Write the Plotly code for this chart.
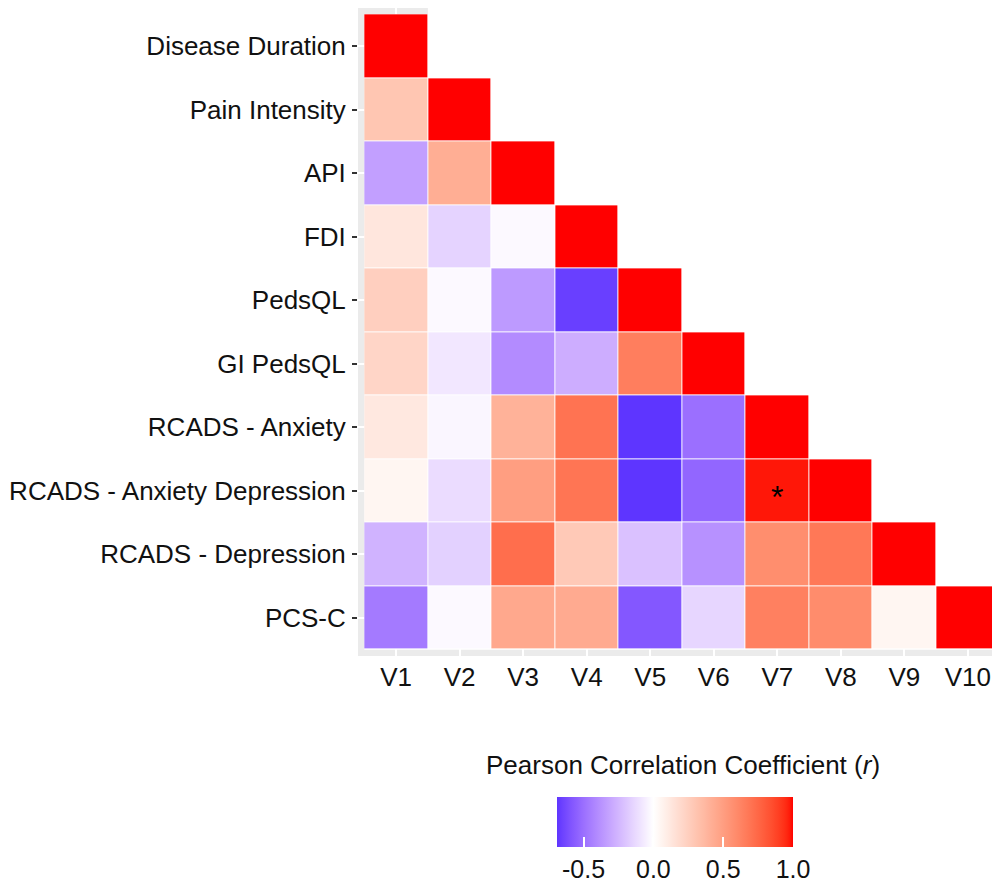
import numpy as np
import plotly.graph_objects as go

# ---------------- data ----------------
variables = ["Disease Duration", "Pain Intensity", "API", "FDI", "PedsQL",
             "GI PedsQL", "RCADS - Anxiety", "RCADS - Anxiety Depression",
             "RCADS - Depression", "PCS-C"]
x_labels = ["V1", "V2", "V3", "V4", "V5", "V6", "V7", "V8", "V9", "V10"]

row_disease_duration = [1.00]
row_pain_intensity = [0.30, 1.00]
row_api = [-0.33, 0.42, 1.00]
row_fdi = [0.13, -0.15, -0.02, 1.00]
row_pedsql = [0.25, -0.02, -0.35, -0.66, 1.00]
row_gi_pedsql = [0.22, -0.08, -0.40, -0.28, 0.65, 1.00]
row_rcads_anxiety = [0.12, -0.03, 0.40, 0.70, -0.69, -0.50, 1.00]
row_rcads_anx_dep = [0.05, -0.12, 0.50, 0.69, -0.69, -0.53, 0.98, 1.00]
row_rcads_depression = [-0.26, -0.16, 0.72, 0.28, -0.21, -0.38, 0.58, 0.68, 1.00]
row_pcs_c = [-0.46, -0.02, 0.45, 0.44, -0.58, -0.14, 0.64, 0.59, 0.05, 1.00]

significant_cells = [("V7", "RCADS - Anxiety Depression")]

cbar_tickvals = [-0.5, 0.0, 0.5, 1.0]
cbar_ticktext = ["-0.5", "0.0", "0.5", "1.0"]
cbar_title = "Pearson Correlation Coefficient (<i>r</i>)"

rows = [row_disease_duration, row_pain_intensity, row_api, row_fdi, row_pedsql,
        row_gi_pedsql, row_rcads_anxiety, row_rcads_anx_dep,
        row_rcads_depression, row_pcs_c]

n = len(variables)
z = np.full((n, n), np.nan)
for i, r in enumerate(rows):
    z[i, :len(r)] = r

# ---------------- colour scale (Lab interpolation, like ggplot gradient2) ----------------
M = np.array([[0.4124564, 0.3575761, 0.1804375],
              [0.2126729, 0.7151522, 0.0721750],
              [0.0193339, 0.1191920, 0.9503041]])
Minv = np.linalg.inv(M)
WP = np.array([0.95047, 1.0, 1.08883])


def srgb_to_lab(rgb):
    c = np.array(rgb, dtype=float) / 255.0
    lin = np.where(c <= 0.04045, c / 12.92, ((c + 0.055) / 1.055) ** 2.4)
    r = (M @ lin) / WP
    f = np.where(r > 0.008856, np.cbrt(r), 7.787 * r + 16 / 116)
    return np.array([116 * f[1] - 16, 500 * (f[0] - f[1]), 200 * (f[1] - f[2])])


def lab_to_srgb(lab):
    L, a, b = lab
    fy = (L + 16) / 116
    f = np.array([fy + a / 500, fy, fy - b / 200])
    r = np.where(f ** 3 > 0.008856, f ** 3, (f - 16 / 116) / 7.787)
    lin = np.clip(Minv @ (r * WP), 0, 1)
    c = np.where(lin <= 0.0031308, 12.92 * lin, 1.055 * lin ** (1 / 2.4) - 0.055)
    c = np.clip(c, 0, 1)
    return "rgb(%d,%d,%d)" % tuple(int(round(v * 255)) for v in c)


LAB_WHITE = srgb_to_lab((255, 255, 255))
LAB_RED = srgb_to_lab((255, 0, 0))
LAB_BLUE = srgb_to_lab((0, 0, 255))
BLUE_SPAN = 0.8


def value_colour(v):
    if v >= 0:
        t = min(v, 1.0)
        return lab_to_srgb(LAB_WHITE + t * (LAB_RED - LAB_WHITE))
    t = min(-v / BLUE_SPAN, 1.0)
    return lab_to_srgb(LAB_WHITE + t * (LAB_BLUE - LAB_WHITE))


zmin = float(np.nanmin(z))
zmax = float(np.nanmax(z))
stops = np.linspace(zmin, zmax, 81)
if 0.0 not in stops:
    stops = np.sort(np.append(stops, 0.0))
colorscale = [[(v - zmin) / (zmax - zmin), value_colour(v)] for v in stops]
colorscale[0][0] = 0.0
colorscale[-1][0] = 1.0

# ---------------- layout geometry ----------------
W, H = 992, 882
ML, MR, MT, MB = 358, 0, 8, 226
EXP = 0.6
plot_w = W - ML - MR
plot_h = H - MT - MB
unit = plot_h / (n - 1 + 2 * EXP)
x_hi = -EXP + plot_w / unit


def px_x(px):
    return (px - ML) / plot_w


def px_y(py):
    return (H - MB - py) / plot_h


FONT = "Liberation Sans, Arial, Helvetica, sans-serif"
TXT = "#111111"
PANEL = "#EBEBEB"
FS = 26

fig = go.Figure()
fig.add_trace(go.Heatmap(
    z=z, x=x_labels, y=variables,
    colorscale=colorscale, zmin=zmin, zmax=zmax,
    xgap=1, ygap=1, hoverongaps=False,
    colorbar=dict(
        orientation="h",
        x=px_x(675), xanchor="center",
        y=px_y(797), yanchor="top",
        len=236, lenmode="pixels", thickness=50,
        outlinewidth=0, xpad=0, ypad=0,
        tickvals=cbar_tickvals, ticktext=cbar_ticktext,
        ticks="inside", ticklen=10, tickwidth=1.5, tickcolor="white",
        tickfont=dict(family=FONT, size=25, color=TXT),
    ),
))

# ggplot-like grey panel strips visible around the triangle
fig.add_shape(type="rect", xref="x", yref="y", x0=-EXP, x1=-0.5, y0=-EXP, y1=n - 1 + EXP,
              fillcolor=PANEL, line_width=0, layer="below")
fig.add_shape(type="rect", xref="x", yref="y", x0=-EXP, x1=x_hi, y0=n - 0.5, y1=n - 1 + EXP,
              fillcolor=PANEL, line_width=0, layer="below")
fig.add_shape(type="rect", xref="x", yref="y", x0=-EXP, x1=0.5, y0=-EXP, y1=-0.5,
              fillcolor=PANEL, line_width=0, layer="below")

for cx, cy in significant_cells:
    fig.add_annotation(x=cx, y=cy, xref="x", yref="y", text="*", showarrow=False,
                       font=dict(family=FONT, size=32, color="black"), yshift=-6)

fig.add_annotation(xref="paper", yref="paper", x=px_x(683), y=px_y(765),
                   text=cbar_title, showarrow=False, xanchor="center", yanchor="middle",
                   font=dict(family=FONT, size=FS, color=TXT))

fig.update_layout(
    width=W, height=H,
    margin=dict(l=ML, r=MR, t=MT, b=MB, autoexpand=False),
    paper_bgcolor="white", plot_bgcolor="white",
    font=dict(family=FONT, size=FS, color=TXT),
    xaxis=dict(type="category", categoryorder="array", categoryarray=x_labels,
               range=[-EXP, x_hi], showgrid=True, gridcolor="white", gridwidth=1.5,
               zeroline=False, showline=False, ticks="", automargin=False,
               tickfont=dict(family=FONT, size=FS, color=TXT), ticklabelstandoff=3),
    yaxis=dict(type="category", categoryorder="array", categoryarray=variables,
               range=[n - 1 + EXP, -EXP], showgrid=True, gridcolor="white", gridwidth=1.5,
               zeroline=False, showline=False, ticks="outside", ticklen=5, tickwidth=1.5,
               tickcolor="#333333", automargin=False,
               tickfont=dict(family=FONT, size=FS, color=TXT), ticklabelstandoff=1),
)

fig.write_html("out.html")
